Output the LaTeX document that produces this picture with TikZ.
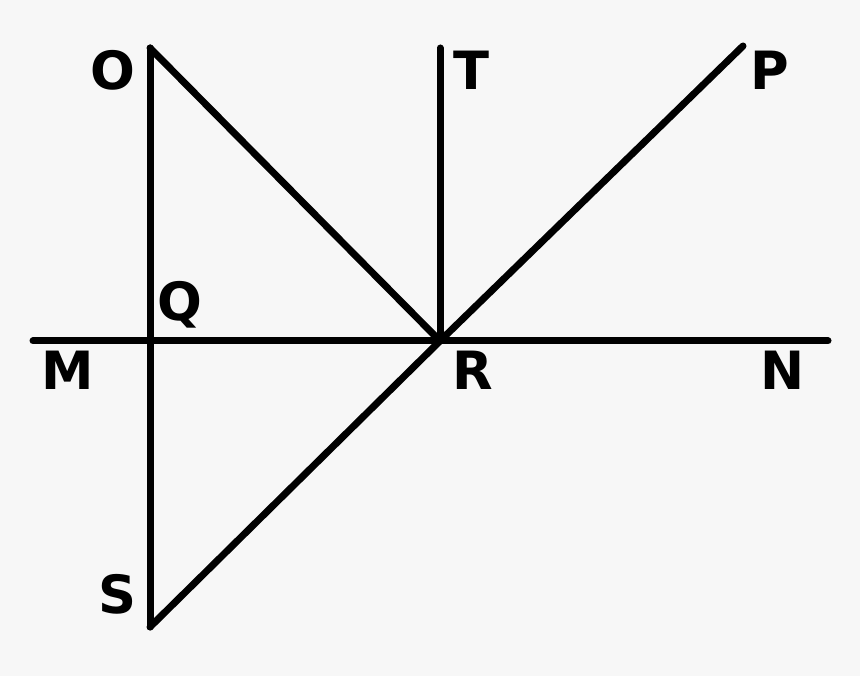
\documentclass[tikz,border=0pt]{standalone}
\usepackage{fontspec}
\setsansfont{DejaVu Sans}
\definecolor{bgcol}{HTML}{F7F7F7}

\begin{document}
\begin{tikzpicture}[line width=0.14cm, line cap=round, line join=round,
    lbl/.style={font=\sffamily\bfseries\fontsize{30}{30}\selectfont, inner sep=0pt}]
    \fill[bgcol] (0,0) rectangle (17.2,13.52);
    \useasboundingbox (0,0) rectangle (17.2,13.52);

    % points
    \coordinate (O) at (3.0,12.56);
    \coordinate (Q) at (3.0,6.70);
    \coordinate (S) at (3.0,0.98);
    \coordinate (M) at (0.66,6.70);
    \coordinate (N) at (16.56,6.70);
    \coordinate (R) at (8.8,6.70);
    \coordinate (T) at (8.8,12.56);
    \coordinate (P) at (14.86,12.6);

    % lines
    \draw (M) -- (N);
    \draw (O) -- (S);
    \draw (R) -- (T);
    \draw (O) -- (R);
    \draw (S) -- (R) -- (P);

    % labels
    \node[lbl] (lO) at (2.26,12.12) {O};
    \node[lbl] (lT) at (9.42,12.12) {T};
    \node[lbl] (lP) at (15.4,12.12) {P};
    \node[lbl] (lQ) at (3.6,7.42) {Q};
    \node[lbl] (lM) at (1.36,6.12) {M};
    \node[lbl] (lR) at (9.46,6.12) {R};
    \node[lbl] (lN) at (15.66,6.12) {N};
    \node[lbl] (lS) at (2.34,1.64) {S};
\end{tikzpicture}
\end{document}
